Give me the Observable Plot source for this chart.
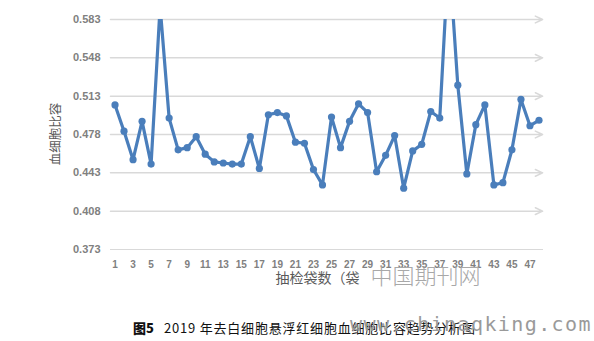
<!DOCTYPE html>
<html>
<head>
<meta charset="utf-8">
<script src="https://cdn.jsdelivr.net/npm/d3@7"></script>
<script src="https://cdn.jsdelivr.net/npm/@observablehq/plot@0.6"></script>
<style>
  html, body { margin: 0; padding: 0; background: #fff; }
  #wrap { position: relative; width: 594px; height: 341px; overflow: hidden; }
  #ytitle { position: absolute; left: 55px; top: 134px; transform: translate(-50%, -50%) rotate(-90deg); font-family: "Noto Sans CJK SC", sans-serif; font-size: 12.5px; color: #595959; white-space: nowrap; line-height: 1; }
  #caption { position: absolute; left: 133px; top: 318px; font-family: "Noto Sans CJK SC", sans-serif; font-size: 13px; color: #111; white-space: nowrap; letter-spacing: 0.8px; }
  #caption b { font-weight: 900; margin-right: 10px; letter-spacing: 0; }
  #wm2 { position: absolute; left: 350px; top: 312px; font-family: "DejaVu Sans Mono", monospace; font-size: 20px; color: #9a9a9a; letter-spacing: 1.4px; white-space: nowrap; }
</style>
</head>
<body>
<div id="wrap">
  <div id="chart"></div>
  <div id="ytitle"></div>
  <div id="caption"></div>
  <div id="wm2"></div>
</div>
<script>
const bags = [1,2,3,4,5,6,7,8,9,10,11,12,13,14,15,16,17,18,19,20,21,22,23,24,25,26,27,28,29,30,31,32,33,34,35,36,37,38,39,40,41,42,43,44,45,46,47,48];
const hct = [0.505,0.481,0.455,0.490,0.451,0.595,0.493,0.464,0.466,0.476,0.460,0.453,0.452,0.451,0.451,0.476,0.447,0.496,0.498,0.495,0.471,0.470,0.446,0.432,0.494,0.466,0.490,0.506,0.498,0.444,0.459,0.477,0.429,0.463,0.469,0.499,0.493,0.645,0.523,0.442,0.487,0.505,0.432,0.434,0.464,0.510,0.486,0.491];
const xTicks = [1,3,5,7,9,11,13,15,17,19,21,23,25,27,29,31,33,35,37,39,41,43,45,47];
const yTicks = [0.373,0.408,0.443,0.478,0.513,0.548,0.583];
const xTitle = ["抽检袋数（袋"];
const yTitle = "血细胞比容";
const watermark1 = ["中国期刊网"];
const captionLabel = "图5";
const captionText = "2019 年去白细胞悬浮红细胞血细胞比容趋势分析图";
const watermark2 = "www.chinaqking.com";

const data = bags.map((b, i) => ({bag: b, v: hct[i]}));
const gridVals = yTicks.slice(1);

const chart = Plot.plot({
  width: 594,
  height: 300,
  marginTop: 19,
  marginBottom: 51,
  marginLeft: 110,
  marginRight: 51,
  style: {fontFamily: "Liberation Sans, sans-serif", background: "#fff", overflow: "visible"},
  x: {domain: [0.5, 48.5], axis: null},
  y: {domain: [0.373, 0.583], axis: null},
  marks: [
    Plot.arrow(gridVals, {x1: 0.5, x2: 48.4, y1: d => d, y2: d => d, stroke: "#d9d9d9", strokeWidth: 1.5, headLength: 8, headAngle: 50}),
    Plot.ruleY([yTicks[0]], {x1: 0.5, x2: 48.5, stroke: "#d9d9d9", strokeWidth: 1.2}),
    Plot.axisY({ticks: yTicks, tickSize: 0, tickPadding: 10, tickFormat: d3.format(".3f"), fontSize: 11, fontWeight: "bold", fill: "#808080", fontFamily: "Liberation Sans", label: null}),
    Plot.axisX({ticks: xTicks, tickSize: 0, tickPadding: 11, fontSize: 10, fontWeight: "bold", fill: "#808080", fontFamily: "Liberation Sans", label: null}),
    Plot.line(data, {x: "bag", y: "v", stroke: "#4a7ebb", strokeWidth: 3.2, clip: true}),
    Plot.dot(data, {x: "bag", y: "v", r: 3.6, fill: "#4a7ebb", stroke: "none", clip: true}),
    Plot.text(xTitle, {frameAnchor: "bottom-left", dx: 165, dy: 33, textAnchor: "start", fontSize: 14, fill: "#595959", fontFamily: "Noto Sans CJK SC"}),
    Plot.text(watermark1, {frameAnchor: "bottom-left", dx: 260, dy: 34, textAnchor: "start", fontSize: 22, fill: "#a8a8a8", fontFamily: "Noto Sans CJK SC", fontWeight: 300, letterSpacing: 2})
  ]
});
document.getElementById("chart").appendChild(chart);
document.getElementById("ytitle").textContent = yTitle;
document.getElementById("caption").innerHTML = "<b>" + captionLabel + "</b>" + captionText;
document.getElementById("wm2").textContent = watermark2;
</script>
</body>
</html>
